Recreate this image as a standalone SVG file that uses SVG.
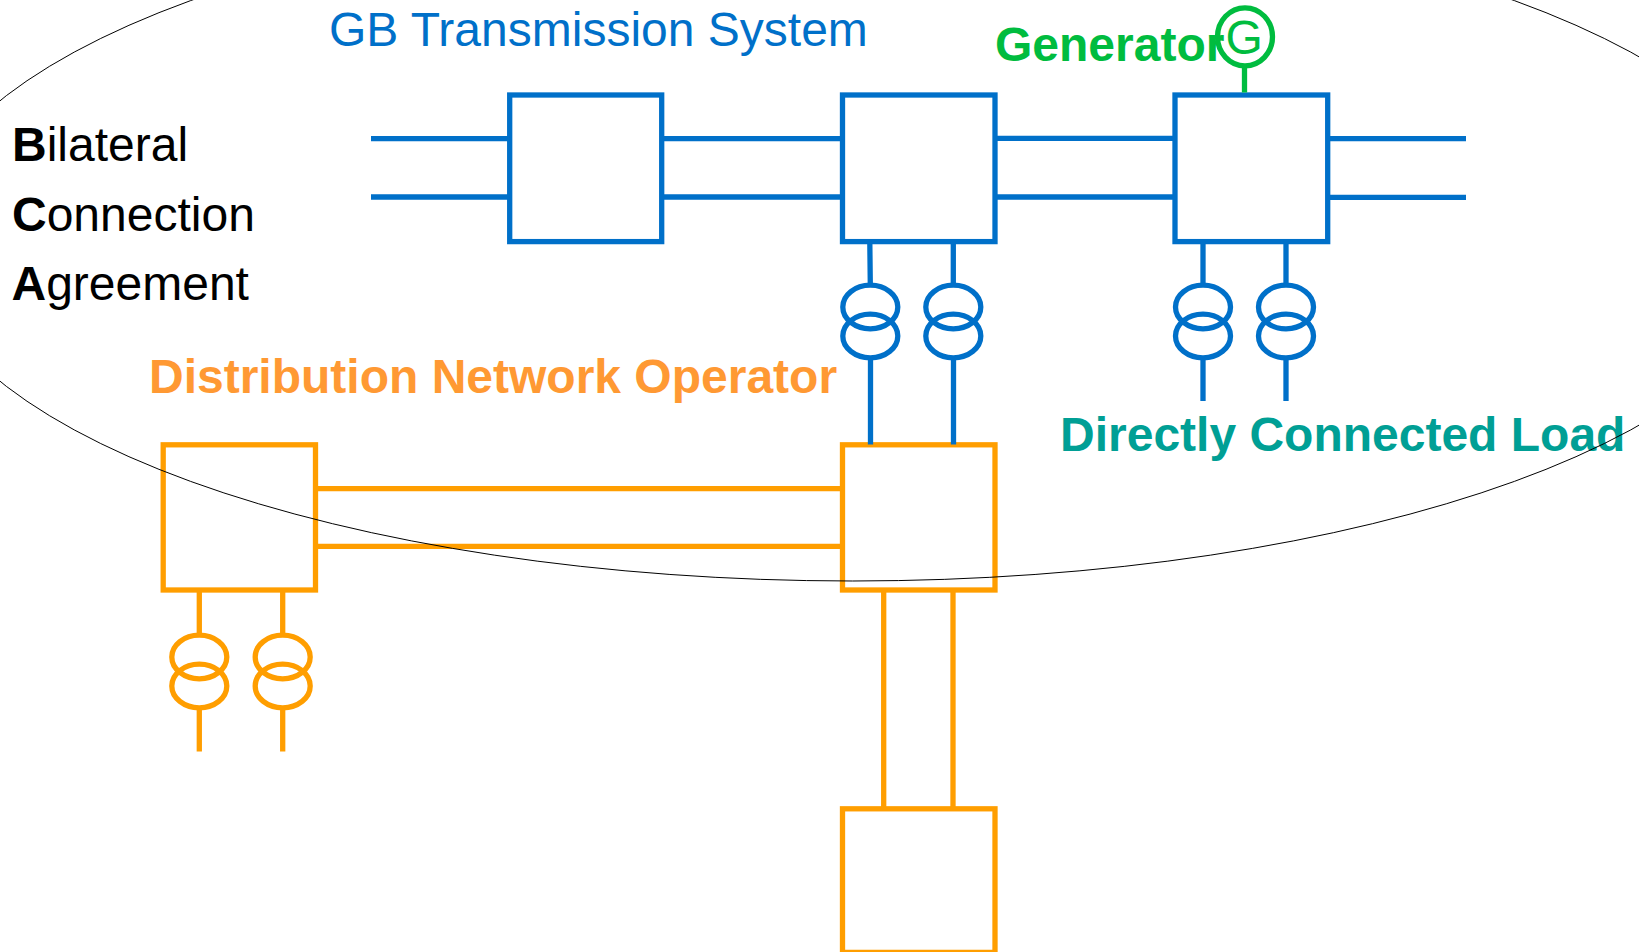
<svg xmlns="http://www.w3.org/2000/svg" width="1639" height="952" viewBox="0 0 1639 952">
<style>
text{font-family:"Liberation Sans",Arial,sans-serif;font-size:48px}
.b{font-weight:bold}
.bl{stroke:#0070C9;fill:none;stroke-width:5.3}
.or{stroke:#FF9E00;fill:none;stroke-width:5.3}
.gr{stroke:#00BC3F;fill:none;stroke-width:5.3}
</style>
<defs>
<g id="tx"><ellipse cx="0" cy="0" rx="27.5" ry="21.8"/><ellipse cx="0" cy="29" rx="27.5" ry="21.8"/></g>
</defs>
<rect width="1639" height="952" fill="#fff"/>
<g id="node-t1"><rect class="bl" x="509.7" y="95" width="152" height="146.6"/></g>
<g id="node-t2"><rect class="bl" x="842.5" y="95" width="152.5" height="146.6"/>
<use href="#tx" class="bl" x="870.3" y="307"/><use href="#tx" class="bl" x="953.3" y="307"/></g>
<g id="node-t3"><rect class="bl" x="1175" y="95" width="152.7" height="146.6"/>
<use href="#tx" class="bl" x="1203" y="307"/><use href="#tx" class="bl" x="1286" y="307"/></g>
<g id="node-generator"><ellipse class="gr" cx="1245" cy="36.8" rx="27.5" ry="29"/>
<text x="1225.5" y="53.5" fill="#00BC3F">G</text></g>
<g id="node-d1"><rect class="or" x="163.2" y="444.8" width="152.3" height="145.2"/>
<use href="#tx" class="or" x="199.3" y="657"/><use href="#tx" class="or" x="282.7" y="657"/></g>
<g id="node-d2"><rect class="or" x="842.5" y="444.8" width="152.5" height="145.2"/></g>
<g id="node-d3"><rect class="or" x="842.5" y="808.8" width="152.5" height="143.6"/></g>
<g id="connectors">
<g class="bl">
<path d="M371 138.7H509.7M371 197H509.7M661.7 138.7H842.5M661.7 197H842.5M995 138.4H1175M995 197H1175M1327.7 138.7H1466M1327.7 197.3H1466"/>
<path d="M869.8 241.6L870.3 285M870.5 358V444.5M953.3 241.6V285M953.5 358V444.5"/>
<path d="M1203 241.6V285M1203 358V401M1286 241.6V285M1286 358V401"/>
</g>
<g class="or">
<path d="M315.5 488.6H842.5M315.5 546.3H842.5"/>
<path d="M883.7 590V808.8M953 590V808.8"/>
<path d="M199.3 590V635M199.3 708V751.5M282.7 590V635M282.7 708V751.5"/>
</g>
<path class="gr" d="M1244.5 66V92.5"/>
</g>
<g id="labels">
<text x="329" y="46" fill="#0070C9">GB Transmission System</text>
<text x="995" y="61" fill="#00BC3F" class="b">Generator</text>
<text x="1060" y="451" fill="#009F95" class="b">Directly Connected Load</text>
<text x="149" y="393" fill="#FF9933" class="b">Distribution Network Operator</text>
<text x="12" y="160.5" fill="#000"><tspan class="b">B</tspan>ilateral</text>
<text x="12" y="231" fill="#000"><tspan class="b">C</tspan>onnection</text>
<text x="11.5" y="299.5" fill="#000"><tspan class="b">A</tspan>greement</text>
</g>
<ellipse id="bca-boundary" cx="852.5" cy="241" rx="936" ry="340" fill="none" stroke="#000" stroke-width="1"/>
</svg>
